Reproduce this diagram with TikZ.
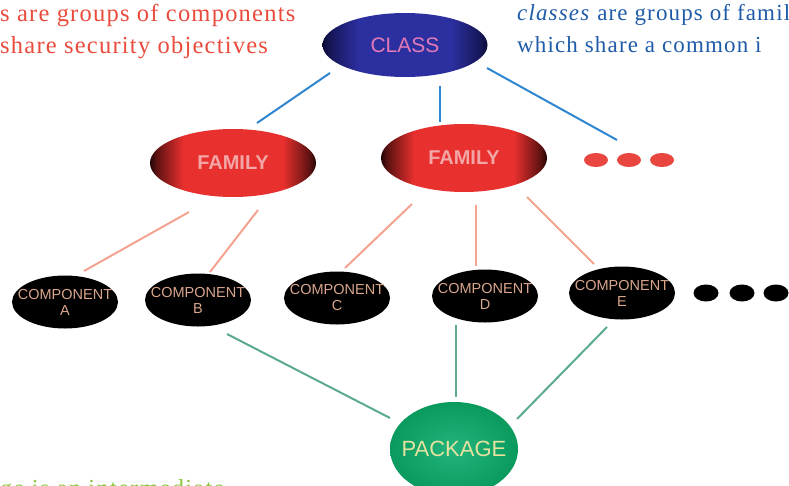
\documentclass[tikz,border=0pt]{standalone}
\usepackage{fontspec}
\setmainfont{Liberation Serif}
\newfontfamily\captext[LetterSpace=5]{Liberation Serif}
\newfontfamily\lbl{Liberation Sans}
\usetikzlibrary{calc,shapes.geometric}
\definecolor{redtxt}{HTML}{E94B3C}
\definecolor{bluetxt}{HTML}{1F5BA8}
\definecolor{greentxt}{HTML}{8CC63F}
\definecolor{lnblue}{HTML}{2E86D0}
\definecolor{lnsalmon}{HTML}{F4A390}
\definecolor{lngreen}{HTML}{5BAA90}
\definecolor{clsmain}{HTML}{2C2FA0}
\definecolor{clsdark}{HTML}{0B0B35}
\definecolor{clstext}{HTML}{E07AB8}
\definecolor{fammain}{HTML}{E8302E}
\definecolor{famdark}{HTML}{220505}
\definecolor{famtext}{HTML}{F2A6A6}
\definecolor{comptext}{HTML}{D9A58C}
\definecolor{pkgin}{HTML}{22B47C}
\definecolor{pkgout}{HTML}{0A9A5E}
\definecolor{pkgtext}{HTML}{E6E2A0}
\definecolor{dotred}{HTML}{E8463F}
\pgfdeclarehorizontalshading{clsshade}{100bp}{color(0bp)=(clsdark); color(25bp)=(clsdark); color(27bp)=(clsdark!70!clsmain); color(36bp)=(clsmain); color(64bp)=(clsmain); color(73bp)=(clsdark!70!clsmain); color(75bp)=(clsdark); color(100bp)=(clsdark)}
\pgfdeclarehorizontalshading{famshade}{100bp}{color(0bp)=(famdark); color(25bp)=(famdark); color(27bp)=(famdark!70!fammain); color(35bp)=(fammain); color(65bp)=(fammain); color(73bp)=(famdark!70!fammain); color(75bp)=(famdark); color(100bp)=(famdark)}
\tikzset{
  ell/.style={ellipse, inner sep=0pt, outer sep=0pt},
  clsnode/.style={ell, minimum width=165pt, minimum height=64pt, shading=clsshade, text=clstext, font=\lbl\fontsize{21}{21}\selectfont},
  famnode/.style={ell, minimum width=166pt, minimum height=68pt, shading=famshade, text=famtext, font=\lbl\bfseries\fontsize{20}{20}\selectfont},
  compnode/.style={ell, inner xsep=-12pt, minimum width=106pt, minimum height=53pt, fill=black, text=comptext, align=center, font=\lbl\fontsize{14.5}{16}\selectfont},
  pkgnode/.style={ell, inner xsep=-16pt, minimum width=128pt, minimum height=94pt, shading=radial, inner color=pkgin, outer color=pkgout, text=pkgtext, font=\lbl\fontsize{22}{22}\selectfont},
  reddot/.style={ell, minimum width=24pt, minimum height=14pt, fill=dotred},
  blackdot/.style={ell, minimum width=25pt, minimum height=17pt, fill=black},
  conn/.style={line width=2pt},
  blueline/.style={conn, draw=lnblue},
  salmonline/.style={conn, draw=lnsalmon},
  greenline/.style={conn, draw=lngreen},
  captxt/.style={inner sep=0pt, align=left, font=\captext\fontsize{23}{32}\selectfont},
  bigcap/.style={inner sep=0pt, align=left, font=\captext\fontsize{24.5}{32}\selectfont}
}
\begin{document}
\begin{tikzpicture}[x=1pt,y=-1pt]
\useasboundingbox (0,0) rectangle (789,485);
\clip (0,0) rectangle (789,485);
% texts
\node[bigcap, text=redtxt, anchor=north west] (redtext) at (0,4) {s are groups of components\\share security objectives};
\node[captxt, text=bluetxt, anchor=north west] (bluetext) at (517,4) {\textit{classes} are groups of famil\\which share a common i};
\node[bigcap, text=greentxt, anchor=base west] (greentext) at (0,496) {ge is an intermediate};
% nodes
\node[clsnode] (cls) at (405,45) {CLASS};
\node[famnode] (fam1) at (233,163) {FAMILY};
\node[famnode] (fam2) at (464,158) {FAMILY};
\node[reddot] (d1) at (596,160) {};
\node[reddot] (d2) at (629,160) {};
\node[reddot] (d3) at (662,160) {};
\node[compnode] (A) at (65,302) {COMPONENT\\A};
\node[compnode] (B) at (198,300) {COMPONENT\\B};
\node[compnode] (C) at (337,298) {COMPONENT\\C};
\node[compnode] (D) at (485,296) {COMPONENT\\D};
\node[compnode] (E) at (622,293) {COMPONENT\\E};
\node[blackdot] (k1) at (706,293) {};
\node[blackdot] (k2) at (742,293) {};
\node[blackdot] (k3) at (776,293) {};
\node[pkgnode] (pkg) at (454,449) {PACKAGE};
% connectors
\draw[blueline] ($(cls.center)+(-75,28)$) -- ($(fam1.center)+(24,-40)$);
\draw[blueline] ($(cls.center)+(35,41)$) -- ($(fam2.center)+(-24,-36)$);
\draw[blueline] ($(cls.center)+(82,23)$) -- ($(d1.center)+(21,-20)$);
\draw[salmonline] ($(fam1.center)+(-44,49)$) -- ($(A.center)+(19,-31)$);
\draw[salmonline] ($(fam1.center)+(25,47)$) -- ($(B.center)+(12,-28)$);
\draw[salmonline] ($(fam2.center)+(-52,46)$) -- ($(C.center)+(8,-30)$);
\draw[salmonline] ($(fam2.center)+(12,47)$) -- ($(D.center)+(-9,-30)$);
\draw[salmonline] ($(fam2.center)+(63,39)$) -- ($(E.center)+(-28,-29)$);
\draw[greenline] ($(B.center)+(29,34)$) -- ($(pkg.center)+(-64,-31)$);
\draw[greenline] ($(D.center)+(-29,29)$) -- ($(pkg.center)+(2,-52)$);
\draw[greenline] ($(E.center)+(-15,34)$) -- ($(pkg.center)+(63,-30)$);
\end{tikzpicture}
\end{document}
